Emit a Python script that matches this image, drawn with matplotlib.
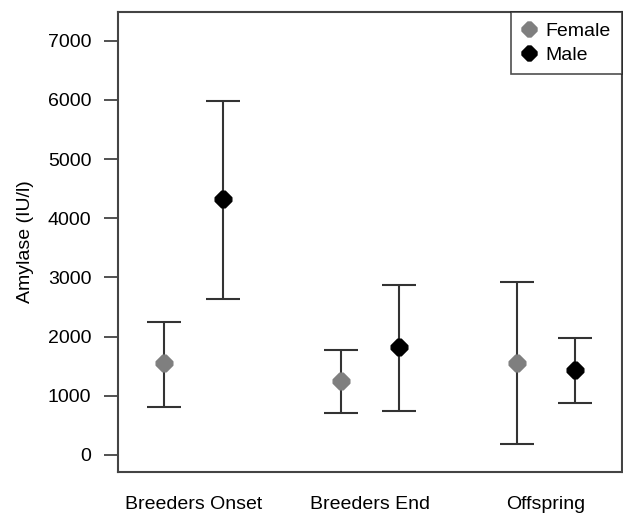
import matplotlib
matplotlib.use("Agg")
import matplotlib.pyplot as plt
from matplotlib.path import Path
import numpy as np

plt.rcParams['font.family'] = ['Liberation Sans', 'DejaVu Sans']

categories = ["Breeders Onset", "Breeders End", "Offspring"]
female_mean = [1547, 1253, 1558]
female_upper = [2247, 1778, 2924]
female_lower = [813, 711, 181]
male_mean = [4324, 1823, 1434]
male_upper = [5984, 2879, 1981]
male_lower = [2636, 734, 875]
yticks = [0, 1000, 2000, 3000, 4000, 5000, 6000, 7000]

# rounded diamond marker (like R pch 18)
c = 0.18
verts = [(-c, 1 - c), (c, 1 - c), (1 - c, c), (1 - c, -c), (c, -(1 - c)),
         (-c, -(1 - c)), (-(1 - c), -c), (-(1 - c), c), (-c, 1 - c)]
rdiamond = Path(verts, [Path.MOVETO] + [Path.LINETO] * 7 + [Path.CLOSEPOLY])

fig = plt.figure(figsize=(6.23, 5.13), dpi=100)
ax = fig.add_axes([0.189, 0.080, 0.809, 0.897])

x = np.arange(1, len(categories) + 1)
off = 0.165
line_col = "#333333"

for xs, m, lo, hi, col, lab in [
    (x - off, female_mean, female_lower, female_upper, "#7f7f7f", "Female"),
    (x + off, male_mean, male_lower, male_upper, "#000000", "Male"),
]:
    m = np.array(m); lo = np.array(lo); hi = np.array(hi)
    ax.errorbar(xs, m, yerr=[m - lo, hi - m], fmt='none', ecolor=line_col,
                elinewidth=1.5, capsize=12, capthick=1.5, zorder=2)
    ax.plot(xs, m, linestyle='none', marker=rdiamond, markersize=12, color=col,
            markeredgecolor=col, label=lab, zorder=3)

ax.set_xlim(0.57, 3.43)
ax.set_ylim(-290, 7490)
ax.set_yticks(yticks)
ax.set_yticklabels([str(v) for v in yticks], fontsize=14)
ax.set_xticks(x)
ax.set_xticklabels(categories, fontsize=14)
ax.tick_params(axis='x', length=0, pad=17)
ax.tick_params(axis='y', length=10, width=1.2, color=line_col, pad=9)
ax.set_ylabel("Amylase (IU/l)", fontsize=14, labelpad=10)
for s in ax.spines.values():
    s.set_color("#444444")
    s.set_linewidth(1.5)

leg = ax.legend(loc='upper right', fontsize=14, frameon=True, fancybox=False,
                borderaxespad=0, handlelength=0.8, handletextpad=0.45,
                borderpad=0.55, labelspacing=0.3, markerscale=0.9)
leg.get_frame().set_edgecolor("#222222")
leg.get_frame().set_linewidth(1.2)

fig.savefig("out.png", dpi=100)
